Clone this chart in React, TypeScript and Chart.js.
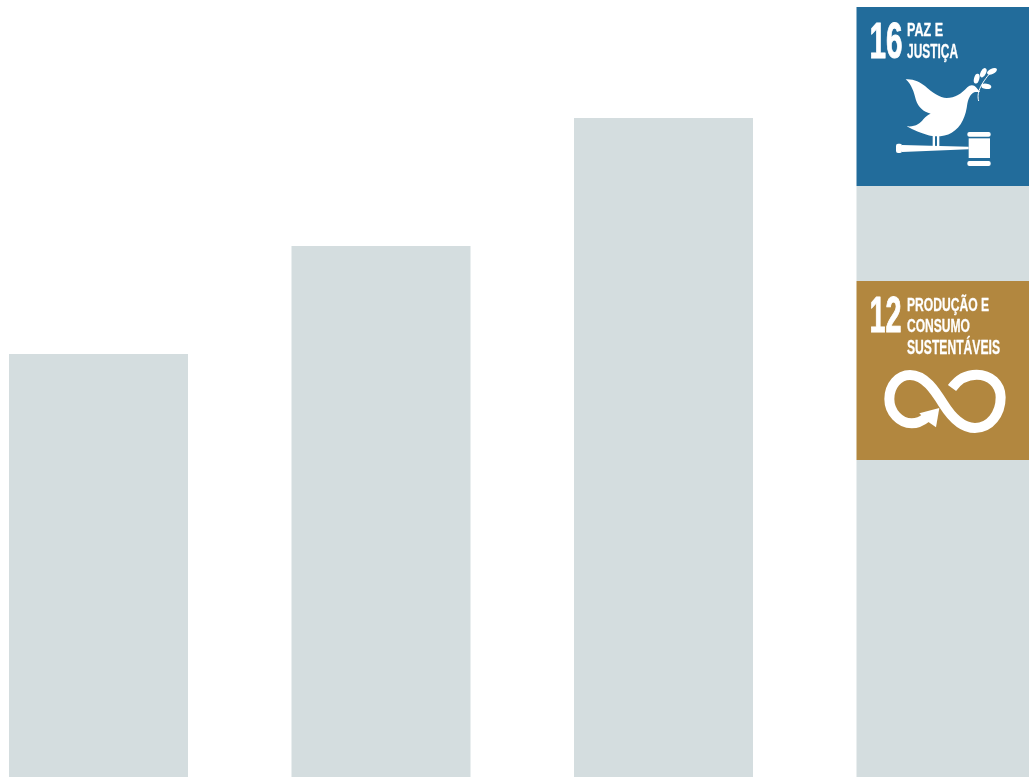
import React, { useEffect, useRef } from "react";
import { Chart, registerables } from "chart.js";

Chart.register(...registerables);

const positions = [0, 1, 2, 3];
const lowerGrey = [423, 531, 659, 317];
const orangeBlock = [null, null, null, 179];
const upperGrey = [null, null, null, 95];
const blueBlock = [null, null, null, 179];
const labels16 = ["16", "PAZ E", "JUSTIÇA"];
const labels12 = ["12", "PRODUÇÃO E", "CONSUMO", "SUSTENTÁVEIS"];

const GREY = "#d4dddf";
const BLUE = "#226c9b";
const ORANGE = "#b2873f";
const FONT = '"Liberation Sans Narrow", "Liberation Sans", Roboto, sans-serif';

const series = (values: (number | null)[]) => values.map((y, i) => ({ x: positions[i], y }));

function fitText(ctx: CanvasRenderingContext2D, text: string, x: number, baseline: number, width: number, capHeight: number, weight: number) {
  ctx.save();
  ctx.font = `bold ${capHeight / 0.69}px ${FONT}`;
  ctx.textAlign = "left";
  ctx.textBaseline = "alphabetic";
  ctx.fillStyle = "#ffffff";
  ctx.strokeStyle = "#ffffff";
  ctx.lineJoin = "round";
  ctx.lineWidth = weight;
  const measured = ctx.measureText(text).width;
  ctx.translate(x, baseline);
  ctx.scale(width / measured, 1);
  ctx.fillText(text, 0, 0);
  ctx.strokeText(text, 0, 0);
  ctx.restore();
}

function drawPeace(ctx: CanvasRenderingContext2D, left: number, top: number) {
  fitText(ctx, labels16[0], left + 13, top + 51, 33, 35, 1);
  fitText(ctx, labels16[1], left + 50.5, top + 29, 36, 13, 0.3);
  fitText(ctx, labels16[2], left + 50.5, top + 51, 51, 14, 0.3);

  ctx.save();
  ctx.translate(left + 33.5, top + 55);
  ctx.scale(1 / 3, 1 / 3);
  ctx.fillStyle = "#ffffff";
  ctx.strokeStyle = "#ffffff";

  const dove = new Path2D(
    "M47,52 C70,50 90,60 105,72 C125,90 150,108 170,108 C195,108 215,95 232,76 C240,68 252,68 258,76 L270,90 L255,90 C245,92 236,105 232,125 C228,160 215,195 185,212 C165,224 135,225 115,220 C95,214 70,205 50,193 C75,196 90,185 100,172 C108,162 115,158 122,155 C100,150 85,135 78,115 C72,90 65,68 47,52 Z"
  );
  ctx.fill(dove);

  ctx.fillRect(128, 218, 7, 34);
  ctx.fillRect(141, 218, 7, 34);

  ctx.lineWidth = 3;
  ctx.stroke(new Path2D("M266,117 C260,95 268,70 305,28"));
  const leaves = [
    [260, 50, 15, 8, -75],
    [280, 32, 15, 8, -65],
    [306, 28, 16, 8, -25],
    [289, 73, 15, 8, 8],
  ];
  leaves.forEach(([x, y, rx, ry, rot]) => {
    ctx.beginPath();
    ctx.ellipse(x, y, rx, ry, (rot * Math.PI) / 180, 0, Math.PI * 2);
    ctx.fill();
  });

  ctx.beginPath();
  ctx.roundRect(18, 245, 18, 28, 6);
  ctx.fill();
  ctx.fill(new Path2D("M36,249 L236,254 L236,262 L36,270 Z"));
  ctx.fillRect(236, 229, 64, 59);
  ctx.beginPath();
  ctx.roundRect(232, 210, 70, 14, 6);
  ctx.roundRect(232, 297, 70, 15, 6);
  ctx.fill();
  ctx.restore();
}

function drawConsumption(ctx: CanvasRenderingContext2D, left: number, top: number) {
  fitText(ctx, labels12[0], left + 13, top + 51, 32, 35, 1);
  fitText(ctx, labels12[1], left + 50.5, top + 30, 82, 13, 0.3);
  fitText(ctx, labels12[2], left + 50.5, top + 51, 63, 13, 0.3);
  fitText(ctx, labels12[3], left + 50.5, top + 73, 93, 14, 0.3);

  ctx.save();
  ctx.translate(left + 23.5, top + 83);
  ctx.scale(1 / 3, 1 / 3);
  ctx.strokeStyle = "#ffffff";
  ctx.fillStyle = "#ffffff";
  ctx.lineWidth = 30;
  ctx.lineCap = "butt";
  ctx.stroke(
    new Path2D(
      "M216,72 C235,45 262,32 290,32 C330,32 362,60 362,100 C362,150 330,192 285,192 C245,192 215,160 190,120 C165,80 135,33 90,33 C55,33 28,65 28,105 C28,145 60,178 95,178 C110,178 125,172 140,160"
    )
  );
  ctx.fill(new Path2D("M178,132 L118,148 L130,160 L142,172 L168,190 Z"));
  ctx.restore();
}

const iconPlugin = {
  id: "sdgIcons",
  afterDatasetsDraw(chart: any) {
    const ctx = chart.ctx as CanvasRenderingContext2D;
    const orange = chart.getDatasetMeta(1).data[3];
    const blue = chart.getDatasetMeta(3).data[3];
    drawConsumption(ctx, orange.x - orange.width / 2, orange.y);
    drawPeace(ctx, blue.x - blue.width / 2, blue.y);
  },
};

export default function App() {
  const ref = useRef<HTMLCanvasElement>(null);
  useEffect(() => {
    if (!ref.current) return;
    const pxPerUnit = 282.5;
    const chart = new Chart(ref.current, {
      type: "bar",
      data: {
        datasets: [
          { label: "Base", data: series(lowerGrey), backgroundColor: GREY },
          { label: "12", data: series(orangeBlock), backgroundColor: ORANGE },
          { label: "Meio", data: series(upperGrey), backgroundColor: GREY },
          { label: "16", data: series(blueBlock), backgroundColor: BLUE },
        ] as any,
      },
      options: {
        animation: false,
        responsive: false,
        layout: { padding: 0 },
        datasets: { bar: { barThickness: 179, borderWidth: 0, inflateAmount: 0 } },
        plugins: { legend: { display: false }, tooltip: { enabled: false } },
        scales: {
          x: {
            type: "linear",
            display: false,
            stacked: true,
            offset: false,
            min: -98.5 / pxPerUnit,
            max: (1029 - 98.5) / pxPerUnit,
          },
          y: { display: false, stacked: true, min: 0, max: 777 },
        },
      } as any,
      plugins: [iconPlugin],
    });
    return () => chart.destroy();
  }, []);
  return (
    <div style={{ position: "fixed", left: 0, top: 0, width: 1029, height: 777, overflow: "hidden", background: "#ffffff" }}>
      <canvas ref={ref} width={1029} height={777} style={{ display: "block" }} />
    </div>
  );
}
